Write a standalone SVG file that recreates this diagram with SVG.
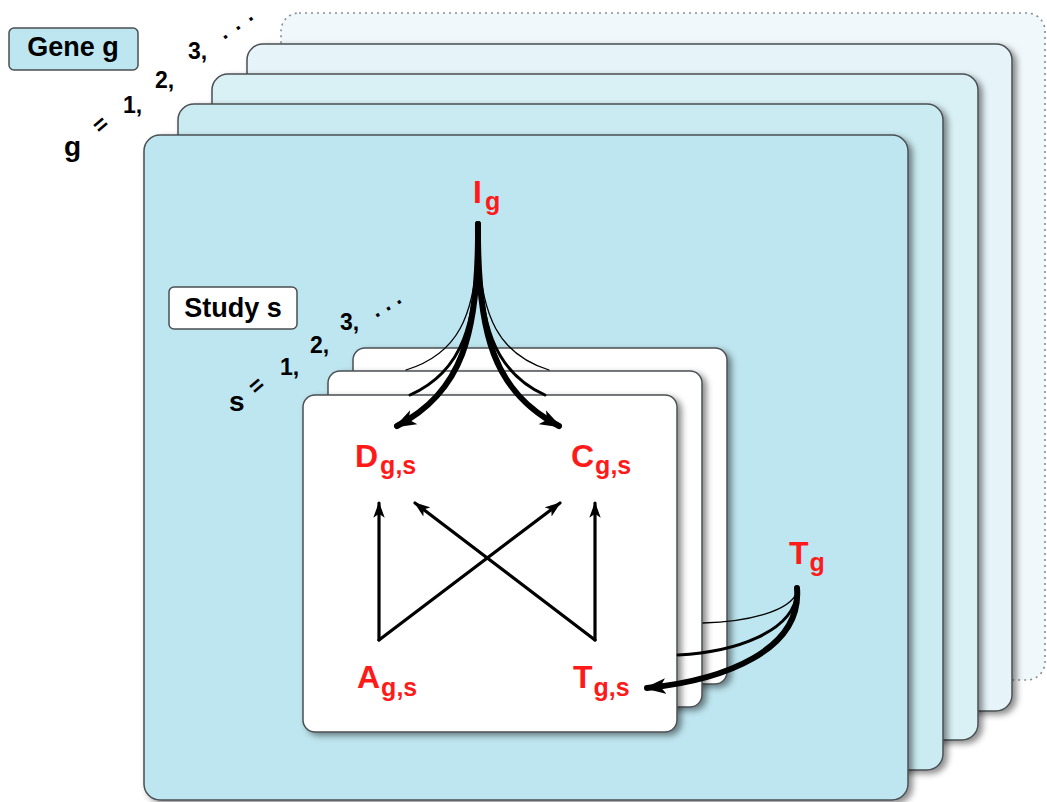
<svg xmlns="http://www.w3.org/2000/svg" width="1047" height="802" viewBox="0 0 1047 802">
<style>
.plane{stroke:#4a4f52;stroke-width:1.5}
.lbl{font-family:"Liberation Sans",Arial,sans-serif;font-weight:bold;fill:#000}
.red{font-family:"Liberation Sans",Arial,sans-serif;font-weight:bold;fill:#ff1a1a;font-size:32px}
.sub{font-size:25px}
.ln{fill:none;stroke:#000;stroke-linecap:round}
</style>
<defs>
<filter id="sh" x="-5%" y="-5%" width="112%" height="112%">
<feDropShadow dx="4" dy="3" stdDeviation="3" flood-color="#000" flood-opacity="0.45"/>
</filter>
<marker id="ah" viewBox="0 0 14 10" refX="13" refY="5" markerWidth="16" markerHeight="12" markerUnits="userSpaceOnUse" orient="auto">
<path d="M0,0 L14,5 L0,10 L3.5,5 z" fill="#000"/>
</marker>
<marker id="ahb" viewBox="0 0 14 10" refX="12" refY="5" markerWidth="22" markerHeight="16" markerUnits="userSpaceOnUse" orient="auto">
<path d="M0,0 L14,5 L0,10 L3.5,5 z" fill="#000"/>
</marker>
</defs>
<rect width="1047" height="802" fill="#fff"/>
<g id="gene-planes">
<rect x="281" y="13" width="764" height="667" rx="18" fill="#f1f8fb" stroke="#858d92" stroke-width="1.6" stroke-dasharray="2 4"/>
<rect class="plane" x="247" y="44" width="765" height="667" rx="16" fill="#e6f4f9" filter="url(#sh)"/>
<rect class="plane" x="212" y="74" width="766" height="666" rx="16" fill="#d9f0f5" filter="url(#sh)"/>
<rect class="plane" x="178" y="104" width="765" height="666" rx="16" fill="#caebf2" filter="url(#sh)"/>
<rect class="plane" x="144" y="135" width="764" height="665" rx="16" fill="#bee6f0" filter="url(#sh)"/>
</g>
<g id="gene-label">
<rect x="9" y="28" width="129" height="42" rx="5" fill="#bee6f0" stroke="#4a4f52" stroke-width="1.5"/>
<text class="lbl" x="73" y="56" font-size="27" text-anchor="middle">Gene g</text>
</g>
<g id="gene-index">
<text class="lbl" x="64" y="156" font-size="28">g</text>
<text class="lbl" x="101" y="132" font-size="23" text-anchor="middle" transform="rotate(-40 101 125)">=</text>
<text class="lbl" x="123" y="113" font-size="23">1,</text>
<text class="lbl" x="155" y="88" font-size="23">2,</text>
<text class="lbl" x="188" y="59" font-size="23">3,</text>
<text class="lbl" x="224" y="40" font-size="22" letter-spacing="9.5" transform="rotate(-35 224 40)">...</text>
</g>
<g id="study-planes">
<rect class="plane" x="353" y="348" width="374" height="336" rx="12" fill="#fff" filter="url(#sh)"/>
<rect class="plane" x="328" y="371" width="374" height="336" rx="12" fill="#fff" filter="url(#sh)"/>
<rect class="plane" x="303" y="395" width="374" height="337" rx="12" fill="#fff" filter="url(#sh)"/>
</g>
<g id="study-label">
<rect x="169" y="287" width="128" height="42" rx="5" fill="#fff" stroke="#4a4f52" stroke-width="1.5"/>
<text class="lbl" x="233" y="317" font-size="27" text-anchor="middle">Study s</text>
</g>
<g id="study-index">
<text class="lbl" x="229" y="411" font-size="28">s</text>
<text class="lbl" x="257" y="393" font-size="23" text-anchor="middle" transform="rotate(-40 257 386)">=</text>
<text class="lbl" x="280" y="375" font-size="23">1,</text>
<text class="lbl" x="310" y="353" font-size="23">2,</text>
<text class="lbl" x="340" y="330" font-size="23">3,</text>
<text class="lbl" x="376" y="318" font-size="22" letter-spacing="6.5" transform="rotate(-31 376 318)">...</text>
</g>
<g id="connectors">
<path class="ln" d="M379,640 L379,503" stroke-width="3.2" marker-end="url(#ah)"/>
<path class="ln" d="M379,640 L560,503" stroke-width="3.2" marker-end="url(#ah)"/>
<path class="ln" d="M595,640 L595,503" stroke-width="3.2" marker-end="url(#ah)"/>
<path class="ln" d="M595,640 L415,503" stroke-width="3.2" marker-end="url(#ah)"/>
<path class="ln" d="M478,235 C477,320 455,355 406,370" stroke-width="1.3"/>
<path class="ln" d="M478,235 C479,320 501,355 549,370" stroke-width="1.3"/>
<path class="ln" d="M478,230 C478,325 462,372 410,395" stroke-width="3"/>
<path class="ln" d="M478,230 C478,325 494,372 545,395" stroke-width="3"/>
<path class="ln" d="M478,224 C479,335 462,392 397,426" stroke-width="6" marker-end="url(#ahb)"/>
<path class="ln" d="M478,224 C477,335 494,392 559,426" stroke-width="6" marker-end="url(#ahb)"/>
<path class="ln" d="M797,592 C790,612 745,622 703,623" stroke-width="1.3"/>
<path class="ln" d="M797,592 C794,632 735,652 678,655" stroke-width="3"/>
<path class="ln" d="M797,588 C802,650 725,680 647,688" stroke-width="6" marker-end="url(#ahb)"/>
</g>
<g id="node-I">
<text class="red" x="473" y="203">I<tspan class="sub" dx="3" dy="7">g</tspan></text>
</g>
<g id="node-D">
<text class="red" x="355" y="467">D<tspan class="sub" dx="2" dy="7">g,s</tspan></text>
</g>
<g id="node-C">
<text class="red" x="571" y="467">C<tspan class="sub" dx="1" dy="7">g,s</tspan></text>
</g>
<g id="node-A">
<text class="red" x="357" y="688">A<tspan class="sub" dx="1" dy="8">g,s</tspan></text>
</g>
<g id="node-Tgs">
<text class="red" x="573" y="688">T<tspan class="sub" dx="1" dy="8">g,s</tspan></text>
</g>
<g id="node-Tg">
<text class="red" x="789" y="564">T<tspan class="sub" dx="1" dy="7">g</tspan></text>
</g>
</svg>
